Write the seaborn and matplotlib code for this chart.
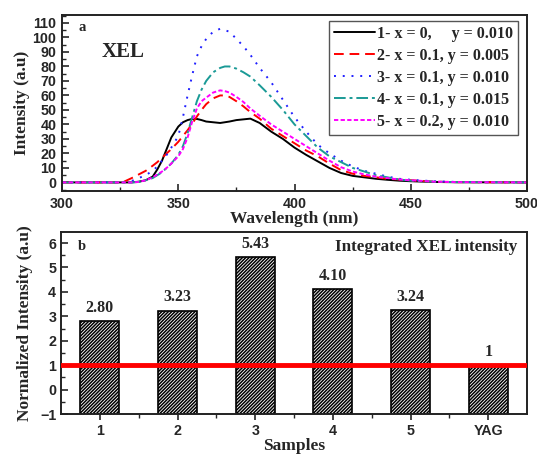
import numpy as np
import pandas as pd
import matplotlib
matplotlib.use("Agg")
import matplotlib.pyplot as plt
from matplotlib.ticker import MultipleLocator
import seaborn as sns

# ---------------- data ----------------
wavelength = [300, 320, 326, 330, 333, 336, 339, 341, 343, 345, 347, 350, 352, 354, 356, 358,
              360, 362, 365, 368, 370, 372, 375, 378, 381, 385, 390, 395, 400, 405, 410,
              415, 420, 425, 430, 435, 440, 445, 450, 460, 470, 500]
s1 = [0, 0, 0, 0, 0.5, 1.5, 4, 9, 15, 23, 31, 38.5, 41.5, 43, 43.8, 43.8,
      43, 42, 41.5, 41, 41.5, 42, 43, 43.5, 44, 41, 35, 30, 24, 19, 14.5,
      10, 6.5, 4.5, 3.5, 2.5, 1.8, 1.2, 0.8, 0.3, 0.1, 0]
s2 = [0, 0, 0, 3, 5.5, 8, 11.5, 14, 17, 20, 23, 28, 32, 36, 40.5, 45.5,
      50, 54, 58, 60, 60, 59, 56, 52.5, 48.5, 44, 37, 32, 27, 22, 18,
      13, 8.5, 6, 4.5, 3.5, 2.5, 2, 1.5, 0.5, 0.2, 0]
s3 = [0, 0, 0, 1, 3, 5, 8, 11, 15, 19, 24, 32, 45, 60, 74, 87,
      94, 99, 104, 106, 105, 104, 99, 94, 88, 79, 69, 57, 45, 35, 26,
      20, 15, 11, 8, 6, 4, 2.5, 1.8, 0.8, 0.3, 0]
s4 = [0, 0, 0, 0, 0.3, 1.5, 3, 5, 7, 10, 13, 19, 25, 34, 45, 56,
      64, 70, 76, 79, 80, 80, 78.5, 76, 73, 67, 59, 50, 40, 32, 24,
      18, 14, 10, 7.5, 5, 3.5, 2, 1.2, 0.5, 0.2, 0]
s5 = [0, 0, 0, 0, 0.3, 1.5, 3.5, 5.5, 7.5, 10, 13, 18, 23, 31, 42, 51,
      56, 58.5, 62, 63.5, 63, 62, 59, 55.5, 51, 46, 40, 35, 30, 25, 20,
      15, 10.5, 7.5, 5.5, 4, 3, 2, 1.5, 0.5, 0.2, 0]
series_labels = ["1- x = 0,     y = 0.010",
                 "2- x = 0.1, y = 0.005",
                 "3- x = 0.1, y = 0.010",
                 "4- x = 0.1, y = 0.015",
                 "5- x = 0.2, y = 0.010"]

samples = ["1", "2", "3", "4", "5", "YAG"]
integrated = [2.80, 3.23, 5.43, 4.10, 3.24, 1.0]
bar_labels = ["2.80", "3.23", "5.43", "4.10", "3.24", "1"]

# ---------------- style ----------------
sns.set_style("ticks")
SERIF = "Liberation Serif"
SANS = "Liberation Sans"
plt.rcParams["font.family"] = [SANS, "DejaVu Sans"]
plt.rcParams["font.weight"] = "bold"
plt.rcParams["axes.linewidth"] = 1.4
plt.rcParams["axes.edgecolor"] = "#222222"
plt.rcParams["hatch.linewidth"] = 1.1
plt.rcParams["hatch.color"] = "#111111"

fig = plt.figure(figsize=(5.37, 4.55), dpi=100)
ax1 = fig.add_axes([0.1155, 0.580, 0.866, 0.387])
ax2 = fig.add_axes([0.1136, 0.090, 0.868, 0.400])

# ---------------- top panel ----------------
colors = ["#000000", "#ff0000", "#2020ff", "#1a9a96", "#ff00ff"]
dashes = [(None, None), (5, 3), (1, 3.5), (6, 2, 1.5, 2), (2.2, 1.2)]
for vals, lab, c, d in zip([s1, s2, s3, s4, s5], series_labels, colors, dashes):
    df = pd.DataFrame({"wl": wavelength, "I": vals})
    sns.lineplot(data=df, x="wl", y="I", ax=ax1, color=c, lw=1.4, label=lab)
    line = ax1.get_lines()[-1]
    if d[0] is not None:
        line.set_dashes(d)

ax1.set_xlim(300, 500)
ax1.set_ylim(-6, 115.5)
ax1.xaxis.set_major_locator(MultipleLocator(50))
ax1.xaxis.set_minor_locator(MultipleLocator(25))
ax1.yaxis.set_major_locator(MultipleLocator(10))
ax1.yaxis.set_minor_locator(MultipleLocator(5))
ax1.tick_params(axis="both", which="major", direction="in", length=5, width=1.2,
                labelsize=10.3, pad=4)
ax1.tick_params(axis="both", which="minor", direction="in", length=3, width=1.0)
for t in ax1.get_xticklabels() + ax1.get_yticklabels():
    t.set_fontweight("bold")
ax1.set_xlabel("Wavelength (nm)", fontfamily=SERIF, fontsize=12.5, fontweight="bold", labelpad=0)
ax1.set_ylabel("Intensity (a.u)", fontfamily=SERIF, fontsize=12.5, fontweight="bold", labelpad=2)
ax1.text(0.035, 0.93, "a", transform=ax1.transAxes, fontfamily=SERIF, fontsize=10.5,
         fontweight="bold", va="center")
ax1.text(0.085, 0.79, "XEL", transform=ax1.transAxes, fontfamily=SERIF, fontsize=15,
         fontweight="bold", va="center")
leg = ax1.legend(loc="upper right", bbox_to_anchor=(0.988, 0.985), frameon=True,
                 fancybox=False, edgecolor="#555555", framealpha=1,
                 prop={"family": SERIF, "weight": "bold", "size": 11.5},
                 handlelength=2.6, handletextpad=0.15, labelspacing=0.38,
                 borderpad=0.3, borderaxespad=0.2)
leg.get_frame().set_linewidth(1.0)

# ---------------- bottom panel ----------------
dfb = pd.DataFrame({"sample": samples, "value": integrated})
sns.barplot(data=dfb, x="sample", y="value", order=samples, ax=ax2, width=0.5,
            color="white", edgecolor="black", linewidth=1.2, hatch="/" * 10)
for p, v in zip(ax2.patches, integrated):
    p.set_y(-1)
    p.set_height(v + 1)
    p.set_edgecolor("black")
    p.set_facecolor("#ffffff")
ax2.axhline(1, color="#ff0000", lw=3.5, zorder=5)
for i, (v, lab) in enumerate(zip(integrated, bar_labels)):
    ax2.text(i, v + 0.22, lab, ha="center", va="bottom", fontfamily=SERIF,
             fontsize=11.5, fontweight="bold")
ax2.set_xlim(-0.5, 5.5)
ax2.set_ylim(-1, 6.45)
ax2.yaxis.set_major_locator(MultipleLocator(1))
ax2.yaxis.set_minor_locator(MultipleLocator(0.5))
ax2.set_xticks(np.arange(0.5, 5.5, 1.0), minor=True)
ax2.tick_params(axis="y", which="major", direction="in", length=5, width=1.2, labelsize=10.3)
ax2.tick_params(axis="y", which="minor", direction="in", length=3, width=1.0)
ax2.tick_params(axis="x", which="major", direction="out", length=4, width=1.2, labelsize=10.3, pad=3)
ax2.tick_params(axis="x", which="minor", direction="out", length=3, width=1.0)
for t in ax2.get_xticklabels() + ax2.get_yticklabels():
    t.set_fontweight("bold")
ax2.set_xlabel("Samples", fontfamily=SERIF, fontsize=12.5, fontweight="bold", labelpad=0)
ax2.set_ylabel("Normalized Intensity (a.u)", fontfamily=SERIF, fontsize=12.5,
               fontweight="bold", labelpad=5)
ax2.text(0.035, 0.92, "b", transform=ax2.transAxes, fontfamily=SERIF, fontsize=10.5,
         fontweight="bold", va="center")
ax2.text(0.98, 0.92, "Integrated XEL intensity", transform=ax2.transAxes, ha="right",
         fontfamily=SERIF, fontsize=12.3, fontweight="bold", va="center")

fig.savefig("out.png", dpi=100)
